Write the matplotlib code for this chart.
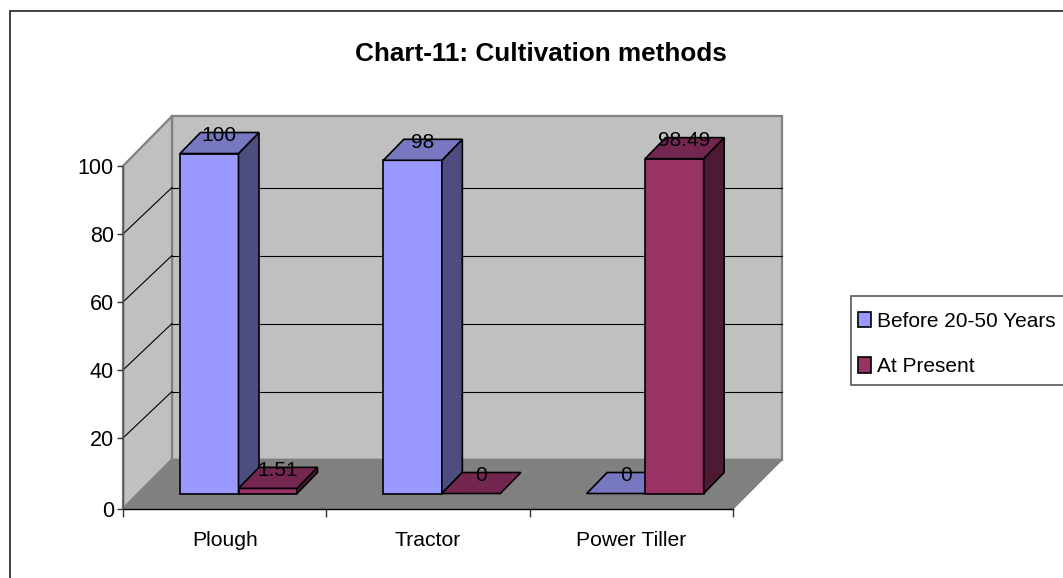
"""Chart-11: pseudo-3D clustered columns of cultivation methods."""

import matplotlib

matplotlib.use("Agg")
import matplotlib.pyplot as plt
from matplotlib.patches import Patch, Polygon, Rectangle

categories = ["Plough", "Tractor", "Power Tiller"]
series_names = ["Before 20-50 Years", "At Present"]
before_values = [100, 98, 0]
present_values = [1.51, 0, 98.49]
value_ticks = [0, 20, 40, 60, 80, 100]

W, H = 1063, 578
PX_PER_CAT = 610 / 3
PX_PER_VAL = 3.4

# oblique projection, in data units
WALL_DX, WALL_DY = 49 / PX_PER_CAT, 46.5 / PX_PER_VAL
FLOOR_FRONT = -2.7 / PX_PER_VAL
WALL_TOP = 101
BAR_DX, BAR_DY = 20.5 / PX_PER_CAT, 21 / PX_PER_VAL
BAR_BASE = 12.5 / PX_PER_VAL
BAR_LEFT = 57 / PX_PER_CAT
BAR_W = 58.5 / PX_PER_CAT

plt.rcParams["font.family"] = ["Liberation Sans"]
FS = 15

fig = plt.figure(figsize=(W / 100, H / 100), dpi=100)
fig.add_artist(Rectangle((9.5 / W, 1 - 640 / H), 1200 / W, 629.5 / H, transform=fig.transFigure,
                         fc="white", ec="#222222", lw=1.2, zorder=-1))

y_bottom = 508.7
ax = fig.add_axes([123 / W, 1 - y_bottom / H, 610 / W, (y_bottom - 166) / H])
ax.set_xlim(0, 3)
ax.set_ylim(FLOOR_FRONT, 100)
ax.patch.set_alpha(0)


def poly(points, face, edge, lw, z):
    ax.add_patch(Polygon(points, closed=True, fc=face, ec=edge, lw=lw, zorder=z,
                         clip_on=False, joinstyle="miter"))


# walls and floor
wall_edge = "#808080"
poly([(WALL_DX, WALL_DY), (3 + WALL_DX, WALL_DY), (3 + WALL_DX, WALL_DY + WALL_TOP), (WALL_DX, WALL_DY + WALL_TOP)],
     "#C0C0C0", wall_edge, 1.6, 1)
poly([(0, FLOOR_FRONT), (0, 100), (WALL_DX, WALL_DY + WALL_TOP), (WALL_DX, WALL_DY)],
     "#C0C0C0", wall_edge, 1.6, 1)
for v in value_ticks[1:-1]:
    ax.plot([WALL_DX, 3 + WALL_DX], [v + WALL_DY] * 2, color="black", lw=0.8, zorder=2, clip_on=False)
    ax.plot([0, WALL_DX], [v, v + WALL_DY], color="black", lw=0.8, zorder=2, clip_on=False)
poly([(0, FLOOR_FRONT), (3, FLOOR_FRONT), (3 + WALL_DX, WALL_DY), (WALL_DX, WALL_DY)],
     "#808080", wall_edge, 1.2, 3)


def draw_bar(x0, value, front, side, top, z):
    x1 = x0 + BAR_W
    y0, y1 = BAR_BASE, BAR_BASE + value
    if value > 0:
        poly([(x0, y0), (x1, y0), (x1, y1), (x0, y1)], front, "black", 1.2, z)
        poly([(x1, y0), (x1 + BAR_DX, y0 + BAR_DY), (x1 + BAR_DX, y1 + BAR_DY), (x1, y1)], side, "black", 1.2, z)
    poly([(x0, y1), (x1, y1), (x1 + BAR_DX, y1 + BAR_DY), (x0 + BAR_DX, y1 + BAR_DY)], top, "black", 1.2, z)
    ax.annotate(f"{value:g}", ((x0 + x1) / 2, y1), xytext=(10, 18), textcoords="offset pixels",
                ha="center", va="center", fontsize=FS, color="black", zorder=20, annotation_clip=False)


colors = [("#9999FF", "#4D4D80", "#7878C0"), ("#993366", "#4D1A33", "#732650")]
for i in range(len(categories)):
    draw_bar(i + BAR_LEFT, before_values[i], *colors[0], 5 + i)
    draw_bar(i + BAR_LEFT + BAR_W, present_values[i], *colors[1], 5.5 + i)

for side in ("top", "right"):
    ax.spines[side].set_visible(False)
for side in ("left", "bottom"):
    ax.spines[side].set_zorder(15)
    ax.spines[side].set_linewidth(1.0)
ax.spines["left"].set_color("#555555")

tick_pos = [FLOOR_FRONT] + value_ticks[1:]
ax.set_yticks(tick_pos, [str(v) for v in value_ticks])
ax.tick_params(axis="y", length=4, width=1, color="#333333", pad=2.5, labelsize=FS + 0.5)
ax.set_xticks(range(len(categories) + 1), [""] * (len(categories) + 1))
ax.tick_params(axis="x", length=6, width=1, color="#333333")
ax.set_xticks([i + 0.5 for i in range(len(categories))], categories, minor=True)
ax.tick_params(axis="x", which="minor", length=0, pad=16, labelsize=FS + 0.2)

fig.text(541 / W, 1 - 54 / H, "Chart-11: Cultivation methods", ha="center", va="center",
         fontsize=18.8, fontweight="bold")

# legend
fig.add_artist(Rectangle((851 / W, 1 - 385 / H), 300 / W, 89.5 / H, transform=fig.transFigure,
                         fc="white", ec="#555555", lw=1.2, zorder=5))
handles = [Patch(fc=c[0], ec="black", lw=1.2) for c in colors]
leg = fig.legend(handles, series_names, loc="upper left", bbox_to_anchor=(846.5 / W, 1 - 300.5 / H),
                 frameon=False, fontsize=FS, handlelength=0.62, handleheight=0.77,
                 handletextpad=0.3, labelspacing=1.27, borderpad=0.55, borderaxespad=0)
leg.set_zorder(6)

fig.savefig("out.png", dpi=100)
